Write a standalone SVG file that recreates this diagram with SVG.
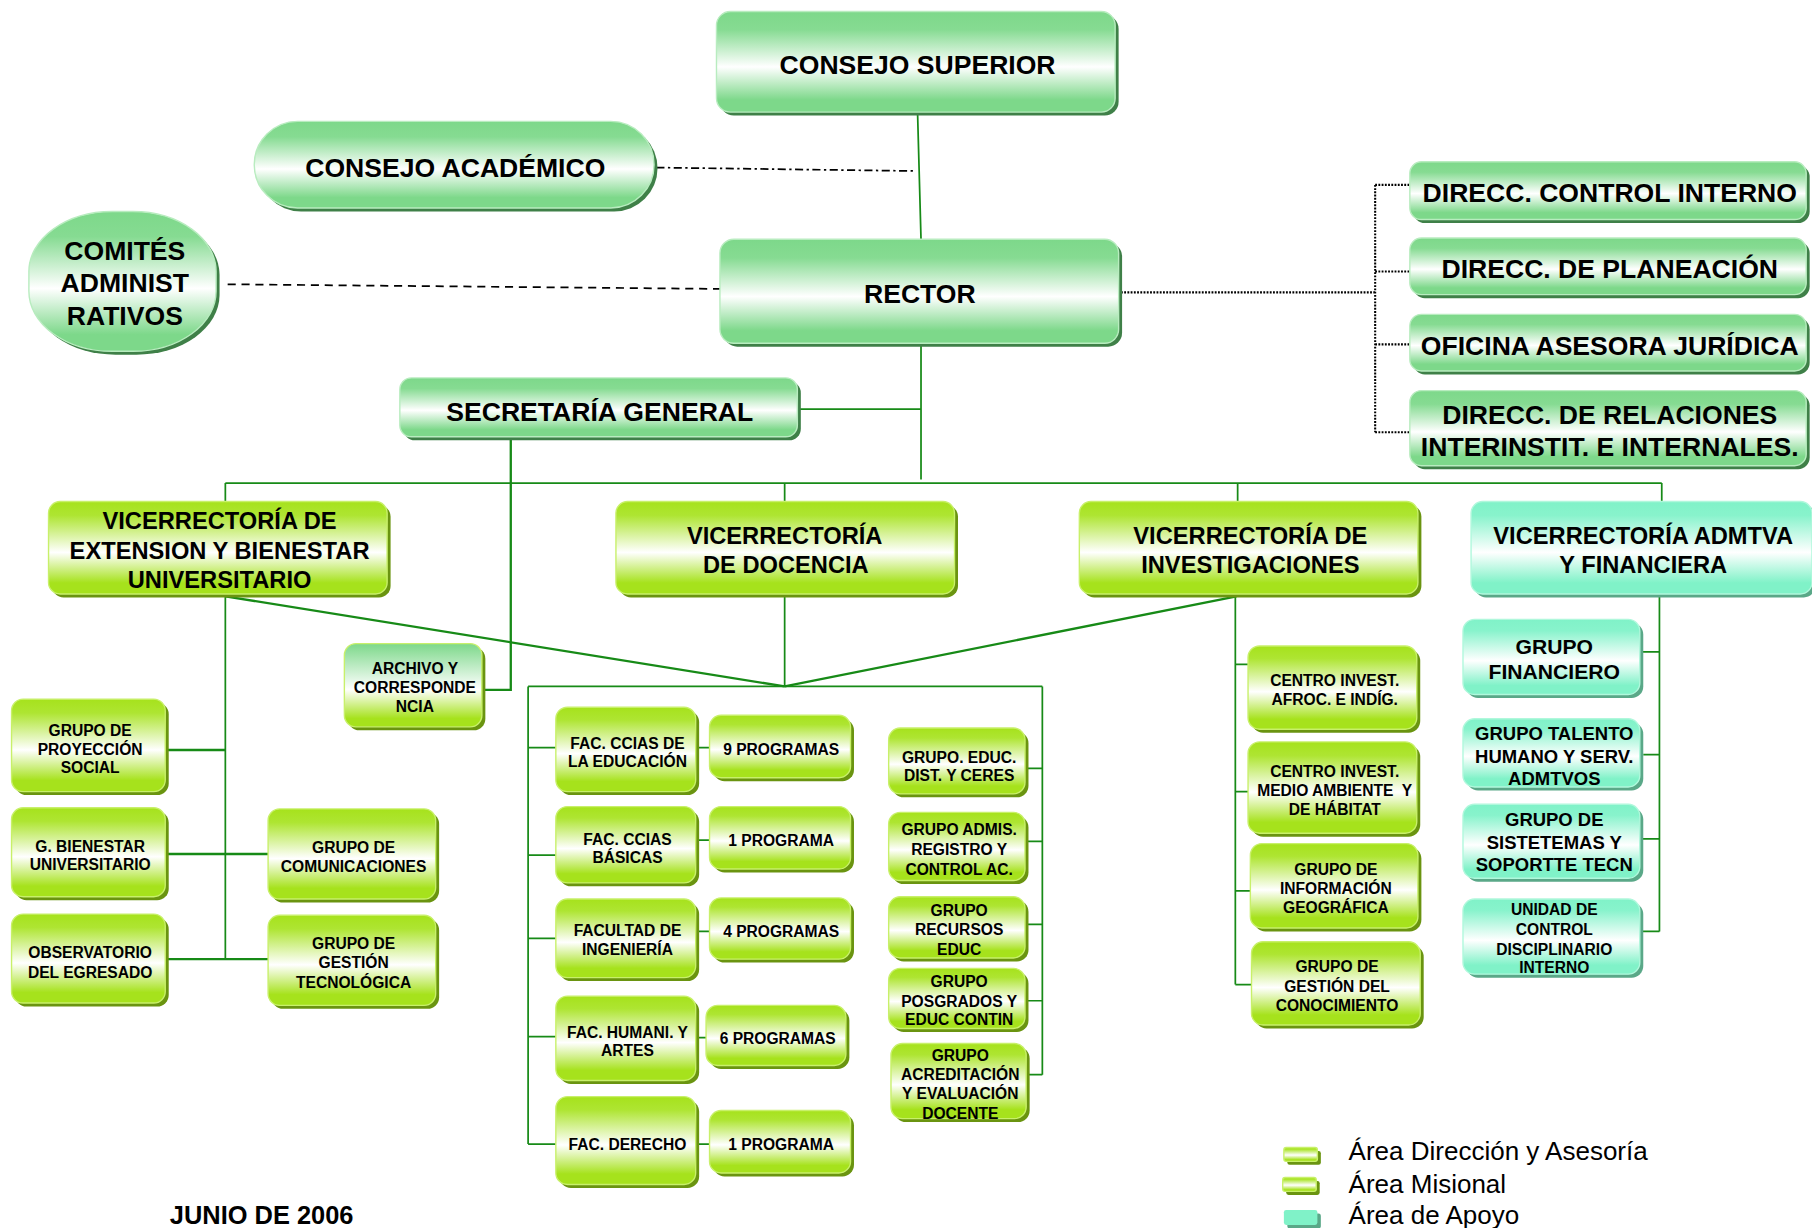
<svg xmlns="http://www.w3.org/2000/svg" width="1812" height="1228" viewBox="0 0 1812 1228">
<defs>
<linearGradient id="gL" x1="0" y1="0" x2="0" y2="1">
<stop offset="0" stop-color="#7dd88a"/><stop offset="0.18" stop-color="#86db92"/><stop offset="0.55" stop-color="#ffffff"/><stop offset="0.88" stop-color="#7dd88a"/><stop offset="1" stop-color="#7dd88a"/>
</linearGradient>
<linearGradient id="gM" x1="0" y1="0" x2="0" y2="1">
<stop offset="0" stop-color="#a6e21c"/><stop offset="0.15" stop-color="#aee532"/><stop offset="0.55" stop-color="#ffffff"/><stop offset="0.88" stop-color="#a6e21c"/><stop offset="1" stop-color="#a6e21c"/>
</linearGradient>
<linearGradient id="gA" x1="0" y1="0" x2="0" y2="1">
<stop offset="0" stop-color="#80f2c8"/><stop offset="0.15" stop-color="#88f3cc"/><stop offset="0.55" stop-color="#ffffff"/><stop offset="0.88" stop-color="#80f2c8"/><stop offset="1" stop-color="#80f2c8"/>
</linearGradient>
<linearGradient id="gX" x1="0" y1="0" x2="0" y2="1">
<stop offset="0" stop-color="#7dd88a"/><stop offset="0.55" stop-color="#ffffff"/><stop offset="0.9" stop-color="#a6e21c"/><stop offset="1" stop-color="#a6e21c"/>
</linearGradient>
</defs>
<style>
.sL{fill:#3f8048}
.sM{fill:#6a9410}
.sA{fill:#5aa888}
.bL{fill:url(#gL);stroke:#b8ecbf;stroke-width:1.2}
.bM{fill:url(#gM);stroke:#c8f06a;stroke-width:1.2}
.bA{fill:url(#gA);stroke:#b0f8dc;stroke-width:1.2}
.bX{fill:url(#gX);stroke:#c8f06a;stroke-width:1.2}
text{font-family:"Liberation Sans",Arial,Helvetica,sans-serif;font-weight:bold;text-anchor:middle;fill:#000}
.f23{font-size:23px}
.f20{font-size:20.5px}
.f18{font-size:18.3px}
.f16{font-size:16px}
.f13{font-size:13.5px}
.lg{font-weight:normal;text-anchor:start;font-size:22.5px}
.c{stroke:#178a17;stroke-width:1.5;fill:none}
.c2{stroke:#178a17;stroke-width:2;fill:none}
.dd{stroke:#000;stroke-width:1.5;fill:none;stroke-dasharray:7 3 2 3}
.ds{stroke:#000;stroke-width:1.5;fill:none;stroke-dasharray:7 5}
.dt{stroke:#000;stroke-width:1.8;fill:none;stroke-dasharray:1.6 1.2}
</style>
<rect x="0" y="0" width="1812" height="1228" fill="#ffffff"/>
<g transform="scale(1.1556)">
<g id="connectors">
<path class="c" d="M794 97 L797 207 M797 297 L797 415 M690 354 L797 354"/>
<path class="dd" d="M568 145 L793 148"/>
<path class="ds" d="M197 246 L623 250"/>
<path class="dt" d="M970 253 L1190 253 M1190 160 L1190 374 M1190 160 L1220 160 M1190 235 L1220 235 M1190 298 L1220 298 M1190 374 L1220 374"/>
<path class="c2" d="M442 378 L442 597 L418 597"/>
<path class="c" d="M195 418 L1438 418 M195 418 L195 434 M679 418 L679 434 M1071 418 L1071 434 M1438 418 L1438 434"/>
<path class="c2" d="M195 516 L679 594 M1070 516 L679 594"/>
<path class="c" d="M679 516 L679 594 M457 594 L902 594 M457 594 L457 990 M902 594 L902 930"/>
<path class="c" d="M457 647 L481 647 M457 740 L481 740 M457 812 L481 812 M457 897 L481 897 M457 990 L481 990"/>
<path class="c" d="M602 647 L614 647 M602 727 L614 727 M602 806 L614 806 M602 898 L611 898 M602 990 L614 990"/>
<path class="c" d="M887 665 L902 665 M887 728 L902 728 M887 800 L902 800 M887 866 L902 866 M888 930 L902 930"/>
<path class="c" d="M195 516 L195 830"/>
<path class="c2" d="M143 649 L195 649 M143 739 L232 739 M143 830 L232 830"/>
<path class="c" d="M1069 516 L1069 852 M1069 575 L1080 575 M1069 685 L1080 685 M1069 771 L1082 771 M1069 852 L1083 852"/>
<path class="c" d="M1436 516 L1436 806 M1419 564 L1436 564 M1422 653 L1436 653 M1419 726 L1436 726 M1419 806 L1436 806"/>
</g>
<g id="n-consejo-superior">
<rect class="sL" x="623" y="13" width="345" height="87" rx="12"/>
<rect class="bL" x="620" y="10" width="345" height="87" rx="12"/>
<text class="f23" x="794" y="64">CONSEJO SUPERIOR</text>
</g>
<g id="n-consejo-academico">
<rect class="sL" x="223" y="108" width="346" height="75" rx="37.5"/>
<rect class="bL" x="220" y="105" width="346" height="75" rx="37.5"/>
<text class="f23" x="394" y="153">CONSEJO ACADÉMICO</text>
</g>
<g id="n-comites">
<rect class="sL" x="28" y="186" width="162" height="121" rx="72" ry="52"/>
<rect class="bL" x="25" y="183" width="162" height="121" rx="72" ry="52"/>
<text class="f23" x="108" y="225">COMITÉS</text>
<text class="f23" x="108" y="253">ADMINIST</text>
<text class="f23" x="108" y="281">RATIVOS</text>
</g>
<g id="n-rector">
<rect class="sL" x="626" y="210" width="345" height="90" rx="12"/>
<rect class="bL" x="623" y="207" width="345" height="90" rx="12"/>
<text class="f23" x="796" y="262">RECTOR</text>
</g>
<g id="n-secretaria">
<rect class="sL" x="349" y="330" width="344" height="51" rx="10"/>
<rect class="bL" x="346" y="327" width="344" height="51" rx="10"/>
<text class="f23" x="519" y="364">SECRETARÍA GENERAL</text>
</g>
<g id="n-control-interno">
<rect class="sL" x="1223" y="143" width="343" height="50" rx="10"/>
<rect class="bL" x="1220" y="140" width="343" height="50" rx="10"/>
<text class="f23" x="1393" y="175">DIRECC. CONTROL INTERNO</text>
</g>
<g id="n-planeacion">
<rect class="sL" x="1223" y="209" width="343" height="49" rx="10"/>
<rect class="bL" x="1220" y="206" width="343" height="49" rx="10"/>
<text class="f23" x="1393" y="241">DIRECC. DE PLANEACIÓN</text>
</g>
<g id="n-juridica">
<rect class="sL" x="1223" y="275" width="343" height="49" rx="10"/>
<rect class="bL" x="1220" y="272" width="343" height="49" rx="10"/>
<text class="f23" x="1393" y="307">OFICINA ASESORA JURÍDICA</text>
</g>
<g id="n-relaciones">
<rect class="sL" x="1223" y="341" width="343" height="65" rx="10"/>
<rect class="bL" x="1220" y="338" width="343" height="65" rx="10"/>
<text class="f23" x="1393" y="367">DIRECC. DE RELACIONES</text>
<text class="f23" x="1393" y="395">INTERINSTIT. E INTERNALES.</text>
</g>
<g id="n-vr-extension">
<rect class="sM" x="45" y="437" width="293" height="80" rx="10"/>
<rect class="bM" x="42" y="434" width="293" height="80" rx="10"/>
<text class="f20" x="190" y="458">VICERRECTORÍA DE</text>
<text class="f20" x="190" y="484">EXTENSION Y BIENESTAR</text>
<text class="f20" x="190" y="509">UNIVERSITARIO</text>
</g>
<g id="n-vr-docencia">
<rect class="sM" x="536" y="437" width="293" height="80" rx="10"/>
<rect class="bM" x="533" y="434" width="293" height="80" rx="10"/>
<text class="f20" x="679" y="471">VICERRECTORÍA</text>
<text class="f20" x="680" y="496">DE DOCENCIA</text>
</g>
<g id="n-vr-investigaciones">
<rect class="sM" x="937" y="437" width="293" height="80" rx="10"/>
<rect class="bM" x="934" y="434" width="293" height="80" rx="10"/>
<text class="f20" x="1082" y="471">VICERRECTORÍA DE</text>
<text class="f20" x="1082" y="496">INVESTIGACIONES</text>
</g>
<g id="n-vr-admtva">
<rect class="sA" x="1276" y="437" width="295" height="80" rx="10"/>
<rect class="bA" x="1273" y="434" width="295" height="80" rx="10"/>
<text class="f20" x="1422" y="471">VICERRECTORÍA ADMTVA</text>
<text class="f20" x="1422" y="496">Y FINANCIERA</text>
</g>
<g id="n-archivo">
<rect class="sM" x="301" y="560" width="119" height="72" rx="10"/>
<rect class="bX" x="298" y="557" width="119" height="72" rx="10"/>
<text class="f13" x="359" y="583">ARCHIVO Y</text>
<text class="f13" x="359" y="600">CORRESPONDE</text>
<text class="f13" x="359" y="616">NCIA</text>
</g>
<g id="n-proyeccion">
<rect class="sM" x="13" y="608" width="133" height="80" rx="10"/>
<rect class="bM" x="10" y="605" width="133" height="80" rx="10"/>
<text class="f13" x="78" y="637">GRUPO DE</text>
<text class="f13" x="78" y="653">PROYECCIÓN</text>
<text class="f13" x="78" y="669">SOCIAL</text>
</g>
<g id="n-bienestar">
<rect class="sM" x="13" y="702" width="133" height="77" rx="10"/>
<rect class="bM" x="10" y="699" width="133" height="77" rx="10"/>
<text class="f13" x="78" y="737">G. BIENESTAR</text>
<text class="f13" x="78" y="753">UNIVERSITARIO</text>
</g>
<g id="n-observatorio">
<rect class="sM" x="13" y="794" width="133" height="77" rx="10"/>
<rect class="bM" x="10" y="791" width="133" height="77" rx="10"/>
<text class="f13" x="78" y="829">OBSERVATORIO</text>
<text class="f13" x="78" y="846">DEL EGRESADO</text>
</g>
<g id="n-comunicaciones">
<rect class="sM" x="235" y="703" width="145" height="78" rx="10"/>
<rect class="bM" x="232" y="700" width="145" height="78" rx="10"/>
<text class="f13" x="306" y="738">GRUPO DE</text>
<text class="f13" x="306" y="755">COMUNICACIONES</text>
</g>
<g id="n-gestion-tecnologica">
<rect class="sM" x="235" y="795" width="145" height="78" rx="10"/>
<rect class="bM" x="232" y="792" width="145" height="78" rx="10"/>
<text class="f13" x="306" y="821">GRUPO DE</text>
<text class="f13" x="306" y="838">GESTIÓN</text>
<text class="f13" x="306" y="855">TECNOLÓGICA</text>
</g>
<g id="n-fac-educacion">
<rect class="sM" x="484" y="615" width="121" height="73" rx="10"/>
<rect class="bM" x="481" y="612" width="121" height="73" rx="10"/>
<text class="f13" x="543" y="648">FAC. CCIAS DE</text>
<text class="f13" x="543" y="664">LA EDUCACIÓN</text>
</g>
<g id="n-prog-9">
<rect class="sM" x="617" y="622" width="122" height="54" rx="10"/>
<rect class="bM" x="614" y="619" width="122" height="54" rx="10"/>
<text class="f13" x="676" y="653">9 PROGRAMAS</text>
</g>
<g id="n-fac-basicas">
<rect class="sM" x="484" y="701" width="121" height="66" rx="10"/>
<rect class="bM" x="481" y="698" width="121" height="66" rx="10"/>
<text class="f13" x="543" y="731">FAC. CCIAS</text>
<text class="f13" x="543" y="747">BÁSICAS</text>
</g>
<g id="n-prog-1a">
<rect class="sM" x="617" y="701" width="122" height="54" rx="10"/>
<rect class="bM" x="614" y="698" width="122" height="54" rx="10"/>
<text class="f13" x="676" y="732">1 PROGRAMA</text>
</g>
<g id="n-fac-ingenieria">
<rect class="sM" x="484" y="781" width="121" height="68" rx="10"/>
<rect class="bM" x="481" y="778" width="121" height="68" rx="10"/>
<text class="f13" x="543" y="810">FACULTAD DE</text>
<text class="f13" x="543" y="826">INGENIERÍA</text>
</g>
<g id="n-prog-4">
<rect class="sM" x="617" y="780" width="122" height="53" rx="10"/>
<rect class="bM" x="614" y="777" width="122" height="53" rx="10"/>
<text class="f13" x="676" y="811">4 PROGRAMAS</text>
</g>
<g id="n-fac-humanidades">
<rect class="sM" x="484" y="865" width="121" height="73" rx="10"/>
<rect class="bM" x="481" y="862" width="121" height="73" rx="10"/>
<text class="f13" x="543" y="898">FAC. HUMANI. Y</text>
<text class="f13" x="543" y="914">ARTES</text>
</g>
<g id="n-prog-6">
<rect class="sM" x="614" y="873" width="121" height="52" rx="10"/>
<rect class="bM" x="611" y="870" width="121" height="52" rx="10"/>
<text class="f13" x="673" y="903">6 PROGRAMAS</text>
</g>
<g id="n-fac-derecho">
<rect class="sM" x="484" y="952" width="121" height="76" rx="10"/>
<rect class="bM" x="481" y="949" width="121" height="76" rx="10"/>
<text class="f13" x="543" y="995">FAC. DERECHO</text>
</g>
<g id="n-prog-1b">
<rect class="sM" x="617" y="964" width="122" height="54" rx="10"/>
<rect class="bM" x="614" y="961" width="122" height="54" rx="10"/>
<text class="f13" x="676" y="995">1 PROGRAMA</text>
</g>
<g id="n-educ-dist">
<rect class="sM" x="772" y="633" width="118" height="57" rx="10"/>
<rect class="bM" x="769" y="630" width="118" height="57" rx="10"/>
<text class="f13" x="830" y="660">GRUPO. EDUC.</text>
<text class="f13" x="830" y="676">DIST. Y CERES</text>
</g>
<g id="n-admisiones">
<rect class="sM" x="772" y="706" width="118" height="59" rx="10"/>
<rect class="bM" x="769" y="703" width="118" height="59" rx="10"/>
<text class="f13" x="830" y="723">GRUPO ADMIS.</text>
<text class="f13" x="830" y="740">REGISTRO Y</text>
<text class="f13" x="830" y="757">CONTROL AC.</text>
</g>
<g id="n-recursos">
<rect class="sM" x="772" y="779" width="118" height="53" rx="10"/>
<rect class="bM" x="769" y="776" width="118" height="53" rx="10"/>
<text class="f13" x="830" y="793">GRUPO</text>
<text class="f13" x="830" y="809">RECURSOS</text>
<text class="f13" x="830" y="826">EDUC</text>
</g>
<g id="n-posgrados">
<rect class="sM" x="772" y="841" width="118" height="52" rx="10"/>
<rect class="bM" x="769" y="838" width="118" height="52" rx="10"/>
<text class="f13" x="830" y="854">GRUPO</text>
<text class="f13" x="830" y="871">POSGRADOS Y</text>
<text class="f13" x="830" y="887">EDUC CONTIN</text>
</g>
<g id="n-acreditacion">
<rect class="sM" x="774" y="906" width="117" height="65" rx="10"/>
<rect class="bM" x="771" y="903" width="117" height="65" rx="10"/>
<text class="f13" x="831" y="918">GRUPO</text>
<text class="f13" x="831" y="935">ACREDITACIÓN</text>
<text class="f13" x="831" y="951">Y EVALUACIÓN</text>
<text class="f13" x="831" y="968">DOCENTE</text>
</g>
<g id="n-centro-afroc">
<rect class="sM" x="1083" y="562" width="146" height="72" rx="10"/>
<rect class="bM" x="1080" y="559" width="146" height="72" rx="10"/>
<text class="f13" x="1155" y="594">CENTRO INVEST.</text>
<text class="f13" x="1155" y="610">AFROC. E INDÍG.</text>
</g>
<g id="n-centro-medio">
<rect class="sM" x="1083" y="645" width="146" height="79" rx="10"/>
<rect class="bM" x="1080" y="642" width="146" height="79" rx="10"/>
<text class="f13" x="1155" y="672">CENTRO INVEST.</text>
<text class="f13" x="1155" y="689" xml:space="preserve">MEDIO AMBIENTE  Y</text>
<text class="f13" x="1155" y="705">DE HÁBITAT</text>
</g>
<g id="n-info-geografica">
<rect class="sM" x="1085" y="733" width="145" height="73" rx="10"/>
<rect class="bM" x="1082" y="730" width="145" height="73" rx="10"/>
<text class="f13" x="1156" y="757">GRUPO DE</text>
<text class="f13" x="1156" y="774">INFORMACIÓN</text>
<text class="f13" x="1156" y="790">GEOGRÁFICA</text>
</g>
<g id="n-gestion-conocimiento">
<rect class="sM" x="1086" y="818" width="146" height="72" rx="10"/>
<rect class="bM" x="1083" y="815" width="146" height="72" rx="10"/>
<text class="f13" x="1157" y="841">GRUPO DE</text>
<text class="f13" x="1157" y="858">GESTIÓN DEL</text>
<text class="f13" x="1157" y="875">CONOCIMIENTO</text>
</g>
<g id="n-financiero">
<rect class="sA" x="1269" y="539" width="153" height="65" rx="10"/>
<rect class="bA" x="1266" y="536" width="153" height="65" rx="10"/>
<text class="f18" x="1345" y="566">GRUPO</text>
<text class="f18" x="1345" y="588">FINANCIERO</text>
</g>
<g id="n-talento">
<rect class="sA" x="1269" y="625" width="153" height="59" rx="10"/>
<rect class="bA" x="1266" y="622" width="153" height="59" rx="10"/>
<text class="f16" x="1345" y="640">GRUPO TALENTO</text>
<text class="f16" x="1345" y="660">HUMANO Y SERV.</text>
<text class="f16" x="1345" y="679">ADMTVOS</text>
</g>
<g id="n-sistemas">
<rect class="sA" x="1269" y="699" width="153" height="64" rx="10"/>
<rect class="bA" x="1266" y="696" width="153" height="64" rx="10"/>
<text class="f16" x="1345" y="715">GRUPO DE</text>
<text class="f16" x="1345" y="735">SISTETEMAS Y</text>
<text class="f16" x="1345" y="754">SOPORTTE TECN</text>
</g>
<g id="n-unidad-control">
<rect class="sA" x="1269" y="781" width="153" height="65" rx="10"/>
<rect class="bA" x="1266" y="778" width="153" height="65" rx="10"/>
<text class="f13" x="1345" y="792">UNIDAD DE</text>
<text class="f13" x="1345" y="809">CONTROL</text>
<text class="f13" x="1345" y="826">DISCIPLINARIO</text>
<text class="f13" x="1345" y="842">INTERNO</text>
</g>
<g id="legend">
<rect class="sM" x="1114" y="996" width="29" height="12" rx="2"/>
<rect class="bM" x="1111" y="993" width="29" height="12" rx="2"/>
<rect class="sM" x="1113" y="1022" width="29" height="12" rx="2"/>
<rect class="bM" x="1110" y="1019" width="29" height="12" rx="2"/>
<rect class="sA" x="1114" y="1050" width="29" height="13" rx="2"/>
<rect x="1111" y="1047" width="29" height="13" rx="2" fill="#80f2c8"/>
<text class="lg" x="1167" y="1004">Área Dirección y Asesoría</text>
<text class="lg" x="1167" y="1032">Área Misional</text>
<text class="lg" x="1167" y="1059">Área de Apoyo</text>
</g>
<text x="147" y="1059" style="font-size:22px;text-anchor:start">JUNIO DE 2006</text>
</g>
</svg>
